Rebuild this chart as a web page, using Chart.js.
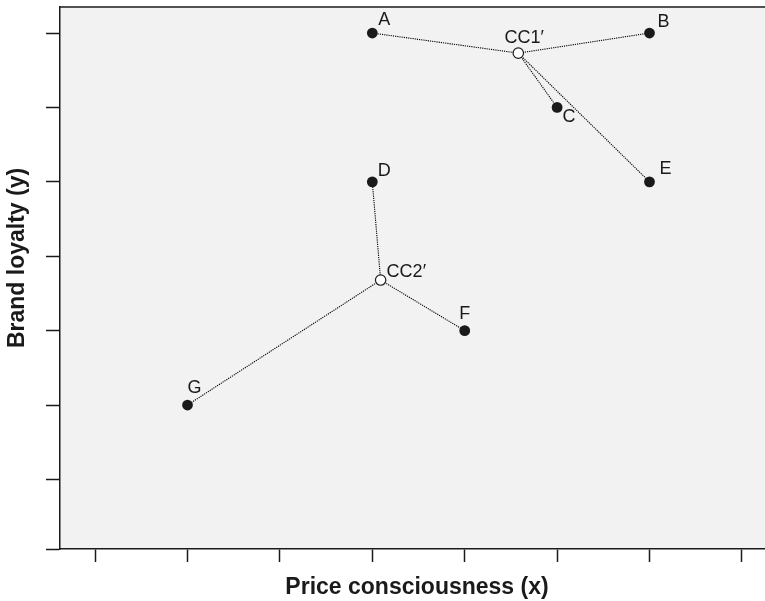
<!DOCTYPE html>
<html>
<head>
<meta charset="utf-8">
<script src="https://cdn.jsdelivr.net/npm/chart.js@4/dist/chart.umd.min.js"></script>
<style>
  html, body { margin: 0; padding: 0; background: #fff; overflow: hidden; }
  canvas { display: block; }
</style>
</head>
<body>
<canvas id="myChart" width="765" height="601"></canvas>
<script>
// data
const pointNames = ['A', 'B', 'C', 'D', 'E', 'F', 'G'];
const pointX = [4, 7, 6, 4, 7, 5, 2];
const pointY = [8, 8, 7, 6, 6, 4, 3];
const pointCluster = [0, 0, 0, 1, 0, 1, 1];

const centroidNames = ['CC1\u2032', 'CC2\u2032'];
const centroidX = [5.58, 4.09];
const centroidY = [7.73, 4.68];

const xTicks = [1, 2, 3, 4, 5, 6, 7, 8];
const yTicks = [2, 3, 4, 5, 6, 7, 8];
const xRange = [0.62, 8.25];
const yRange = [1.065, 8.35];

const xTitle = 'Price consciousness (x)';
const yTitle = 'Brand loyalty (y)';

// label placement (pixels, relative to the mark)
const pointLabelOffset = [[12, -13], [14, -11], [12, 10], [12, -11], [16, -13], [0, -17], [7, -17]];
const centroidLabelOffset = [[6, -15], [6, -8]];
const centroidLabelAlign = ['center', 'left'];

const FONT = '"Liberation Sans", Arial, Helvetica, sans-serif';
const INK = '#1a1a1a';

const links = pointNames.map((n, i) => ({
    type: 'scatter',
    data: [
        { x: centroidX[pointCluster[i]], y: centroidY[pointCluster[i]] },
        { x: pointX[i], y: pointY[i] }
    ],
    showLine: true,
    borderColor: '#000',
    borderWidth: 1.1,
    borderDash: [1.2, 1],
    pointRadius: 0,
    order: 5
}));

const bgPlugin = {
    id: 'plotBg',
    beforeDraw(chart) {
        const { ctx, chartArea: a } = chart;
        ctx.save();
        ctx.fillStyle = '#f2f2f2';
        ctx.fillRect(a.left, a.top, a.right - a.left, a.bottom - a.top);
        ctx.strokeStyle = INK;
        ctx.lineWidth = 1.5;
        ctx.beginPath();
        ctx.moveTo(a.left, a.top);
        ctx.lineTo(a.right, a.top);
        ctx.stroke();
        ctx.restore();
    }
};

const labelPlugin = {
    id: 'markLabels',
    afterDatasetsDraw(chart) {
        const { ctx, scales: { x, y } } = chart;
        ctx.save();
        ctx.font = '18px ' + FONT;
        ctx.fillStyle = INK;
        ctx.textBaseline = 'middle';
        pointNames.forEach((n, i) => {
            const [dx, dy] = pointLabelOffset[i];
            ctx.textAlign = 'center';
            ctx.fillText(n, x.getPixelForValue(pointX[i]) + dx, y.getPixelForValue(pointY[i]) + dy);
        });
        centroidNames.forEach((n, i) => {
            const [dx, dy] = centroidLabelOffset[i];
            ctx.textAlign = centroidLabelAlign[i];
            ctx.fillText(n, x.getPixelForValue(centroidX[i]) + dx, y.getPixelForValue(centroidY[i]) + dy);
        });

        // axis titles
        ctx.font = 'bold 23px ' + FONT;
        ctx.textAlign = 'center';
        ctx.fillText(xTitle, 417, 588);
        ctx.translate(18, 258);
        ctx.rotate(-Math.PI / 2);
        ctx.fillText(yTitle, 0, 0);
        ctx.restore();
    }
};

new Chart(document.getElementById('myChart').getContext('2d'), {
    type: 'scatter',
    data: {
        datasets: [
            {
                data: pointX.map((v, i) => ({ x: v, y: pointY[i] })),
                pointRadius: 5.4,
                pointBackgroundColor: INK,
                pointBorderColor: INK,
                pointBorderWidth: 0,
                order: 1
            },
            {
                data: centroidX.map((v, i) => ({ x: v, y: centroidY[i] })),
                pointRadius: 5.2,
                pointBackgroundColor: '#fff',
                pointBorderColor: INK,
                pointBorderWidth: 1.2,
                order: 0
            },
            ...links
        ]
    },
    options: {
        responsive: false,
        animation: false,
        layout: { autoPadding: false, padding: { top: 7, right: 0, left: 0, bottom: 0 } },
        plugins: { legend: { display: false }, tooltip: { enabled: false } },
        scales: {
            x: {
                type: 'linear',
                min: xRange[0],
                max: xRange[1],
                afterBuildTicks: s => { s.ticks = xTicks.map(v => ({ value: v })); },
                afterFit: s => { s.height = 52; },
                ticks: { display: false },
                grid: { drawOnChartArea: false, drawTicks: true, tickLength: 13, tickColor: INK, tickWidth: 1.5 },
                border: { display: true, color: INK, width: 1.5 },
                title: { display: false }
            },
            y: {
                type: 'linear',
                min: yRange[0],
                max: yRange[1],
                afterBuildTicks: s => { s.ticks = [yRange[0], ...yTicks].map(v => ({ value: v })); },
                afterFit: s => { s.width = 60; },
                ticks: { display: false },
                grid: { drawOnChartArea: false, drawTicks: true, tickLength: 14, tickColor: INK, tickWidth: 1.5 },
                border: { display: true, color: INK, width: 1.5 },
                title: { display: false }
            }
        }
    },
    plugins: [bgPlugin, labelPlugin]
});
</script>
</body>
</html>
